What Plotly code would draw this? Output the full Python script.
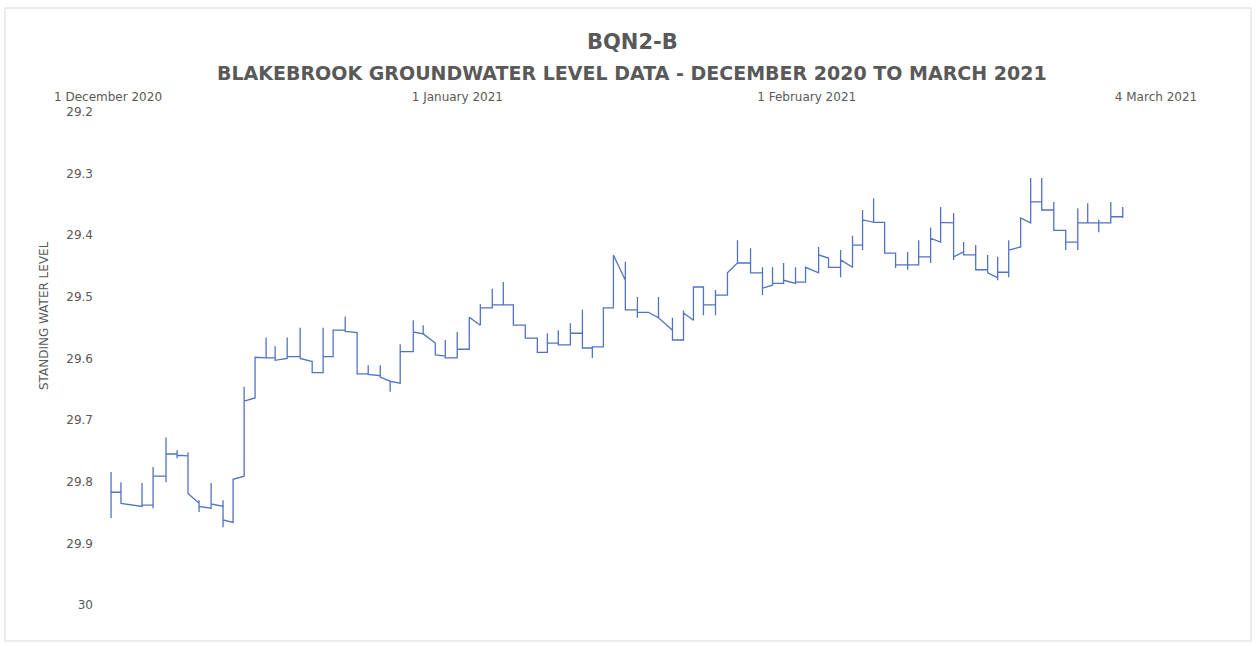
import pandas as pd
import plotly.graph_objects as go

# ---- data ----
# days after 1 December 2020 00:00 (repeated days draw the daily vertical excursions)
day = [
    0.27, 0.27, 0.27, 1.15, 1.15, 1.15, 3.02, 3.02, 3.02, 4.00, 4.00, 4.00, 4.00,
    5.15, 5.15, 5.15, 5.15, 6.13, 6.13, 6.13, 6.13, 7.10, 7.10, 7.10,
    8.08, 8.08, 8.08, 8.08, 9.15, 9.15, 9.15, 10.21, 10.21, 10.21, 10.21,
    11.10, 11.10, 12.08, 12.08, 12.08, 13.05, 13.05,
    14.03, 14.03, 14.03, 14.83, 14.83, 14.83, 15.90, 15.90, 15.90, 17.05, 17.05, 17.05,
    18.12, 18.12, 19.09, 19.09, 19.09, 19.98, 19.98, 21.05, 21.05, 21.05,
    22.11, 22.11, 23.09, 23.09, 23.09, 24.16, 24.16, 24.16, 25.04, 25.04, 25.04,
    25.93, 25.93, 25.93, 27.09, 27.09, 27.09,
    27.97, 27.97, 27.97, 29.04, 29.04, 29.93, 29.93, 29.93, 30.99, 30.99, 30.99,
    32.06, 32.06, 33.04, 33.04, 33.04, 34.10, 34.10, 34.10, 35.08, 35.08, 35.08,
    35.97, 35.97, 37.03, 37.03, 38.10, 38.10, 38.99, 38.99, 38.99, 39.96, 39.96, 39.96,
    41.03, 41.03, 41.03, 42.10, 42.10, 42.10, 42.98, 42.98, 42.98, 43.96, 43.96,
    44.85, 44.85, 45.91, 45.91, 45.91, 46.98, 46.98, 46.98, 46.98, 47.96,
    48.85, 48.85, 48.85, 50.09, 50.09, 50.09, 51.07, 51.07, 51.07, 51.95, 51.95,
    52.84, 52.84, 52.84, 52.84, 53.91, 53.91, 53.91, 53.91, 54.97, 54.97,
    55.86, 55.86, 55.86, 57.02, 57.02, 57.02, 58.08, 58.08, 58.08, 58.08,
    58.97, 58.97, 58.97, 59.95, 59.95, 59.95, 61.01, 61.01, 61.01, 61.90, 61.90,
    63.06, 63.06, 63.06, 63.94, 63.94,
    65.01, 65.01, 65.01, 65.01, 66.07, 66.07, 66.07, 66.96, 66.96, 66.96, 66.96,
    67.94, 67.94, 67.94, 68.92, 68.92, 69.89, 69.89, 69.89, 70.96, 70.96, 70.96, 70.96,
    71.94, 71.94, 71.94, 73.00, 73.00, 73.00, 73.00, 73.89, 73.89, 73.89,
    75.04, 75.04, 75.04, 75.04, 75.93, 75.93, 75.93, 77.00, 77.00, 77.00,
    78.06, 78.06, 78.06, 78.95, 78.95, 78.95, 78.95, 79.93, 79.93, 79.93, 79.93,
    80.99, 80.99, 81.88, 81.88, 81.88, 82.86, 82.86, 82.86, 83.93, 83.93, 83.93,
    84.99, 84.99, 84.99, 86.06, 86.06, 86.06, 86.06, 86.94, 86.94, 86.94,
    87.92, 87.92, 87.92, 87.92, 88.99, 88.99, 88.99, 90.05, 90.05, 90.05,
]

level = [
    29.859, 29.784, 29.817, 29.817, 29.801, 29.835, 29.840, 29.802, 29.838,
    29.838, 29.843, 29.776, 29.791,
    29.791, 29.801, 29.728, 29.755, 29.755, 29.749, 29.762, 29.757, 29.758, 29.752, 29.819,
    29.835, 29.849, 29.830, 29.840, 29.843, 29.802, 29.836, 29.840, 29.874, 29.830, 29.862,
    29.866, 29.796, 29.791, 29.646, 29.669, 29.664, 29.598,
    29.599, 29.566, 29.599, 29.599, 29.580, 29.603, 29.600, 29.566, 29.597,
    29.597, 29.550, 29.600,
    29.605, 29.623, 29.623, 29.550, 29.597, 29.597, 29.554, 29.554, 29.532, 29.556,
    29.558, 29.625, 29.625, 29.611, 29.626, 29.628, 29.611, 29.630, 29.637, 29.654, 29.637,
    29.640, 29.577, 29.589, 29.589, 29.538, 29.557,
    29.560, 29.546, 29.560, 29.575, 29.594, 29.596, 29.570, 29.599, 29.599, 29.557, 29.585,
    29.585, 29.533, 29.546, 29.512, 29.518, 29.518, 29.487, 29.513, 29.513, 29.476, 29.513,
    29.513, 29.546, 29.546, 29.567, 29.567, 29.590, 29.590, 29.559, 29.575,
    29.575, 29.554, 29.578,
    29.578, 29.543, 29.559, 29.559, 29.521, 29.583, 29.583, 29.599, 29.581, 29.581, 29.518,
    29.518, 29.432, 29.473, 29.443, 29.521, 29.521, 29.500, 29.534, 29.525, 29.525,
    29.534, 29.500, 29.534, 29.554, 29.534, 29.570, 29.570, 29.522, 29.526, 29.538, 29.484,
    29.484, 29.492, 29.530, 29.513, 29.513, 29.489, 29.530, 29.497, 29.497, 29.461,
    29.445, 29.408, 29.445, 29.445, 29.421, 29.461, 29.461, 29.452, 29.497, 29.486,
    29.481, 29.452, 29.478, 29.478, 29.445, 29.473, 29.478, 29.452, 29.476, 29.476, 29.452,
    29.461, 29.419, 29.432, 29.437, 29.452,
    29.452, 29.424, 29.468, 29.440, 29.452, 29.401, 29.416, 29.416, 29.424, 29.359, 29.375,
    29.379, 29.340, 29.379, 29.379, 29.429, 29.429, 29.453, 29.448,
    29.448, 29.427, 29.456, 29.448,
    29.448, 29.408, 29.435, 29.435, 29.445, 29.388, 29.405, 29.411, 29.354, 29.379,
    29.380, 29.364, 29.440, 29.435, 29.427, 29.411, 29.432, 29.432, 29.416, 29.456,
    29.456, 29.432, 29.461, 29.469, 29.473, 29.435, 29.460, 29.460, 29.468, 29.408, 29.424,
    29.419, 29.372, 29.380, 29.307, 29.346, 29.346, 29.307, 29.359, 29.359, 29.346, 29.392,
    29.392, 29.424, 29.411, 29.411, 29.424, 29.356, 29.380, 29.380, 29.348, 29.380,
    29.380, 29.375, 29.395, 29.380, 29.380, 29.346, 29.370, 29.370, 29.354, 29.372,
]

start_date = "2020-12-01"
tick_dates = ["2020-12-01", "2021-01-01", "2021-02-01", "2021-03-04"]
tick_labels = ["1 December 2020", "1 January 2021", "1 February 2021", "4 March 2021"]
y_ticks = [29.2, 29.3, 29.4, 29.5, 29.6, 29.7, 29.8, 29.9, 30]

title_1 = "BQN2-B"
title_2 = "BLAKEBROOK GROUNDWATER LEVEL DATA - DECEMBER 2020 TO MARCH 2021"
y_title = "STANDING WATER LEVEL"

times = pd.Timestamp(start_date) + pd.to_timedelta(day, unit="D")

GREY = "#595959"
FONT = "DejaVu Sans"

fig = go.Figure(
    go.Scatter(
        x=times, y=level, mode="lines",
        line=dict(color="#5272c2", width=1.3),
        hoverinfo="x+y", showlegend=False,
    )
)

L, R, T, B = 108, 103, 112, 41
W, H = 1259, 646
pw, ph = W - L - R, H - T - B

def px(xp):
    return (xp - L) / pw

def py(yp):
    return (H - B - yp) / ph

fig.update_layout(
    width=W, height=H,
    margin=dict(l=L, r=R, t=T, b=B),
    paper_bgcolor="white", plot_bgcolor="white",
    font=dict(family=FONT, color=GREY, size=12),
    xaxis=dict(
        side="top", range=[tick_dates[0], tick_dates[-1]],
        tickmode="array", tickvals=tick_dates, ticktext=tick_labels,
        showgrid=False, zeroline=False, showline=False, ticks="",
        ticklabelstandoff=8, tickfont=dict(size=12, color=GREY, family=FONT),
    ),
    yaxis=dict(
        range=[30.0, 29.2], tickmode="array", tickvals=y_ticks,
        ticktext=[str(v) for v in y_ticks],
        showgrid=False, zeroline=False, showline=False, ticks="",
        ticklabelstandoff=14, tickfont=dict(size=12, color=GREY, family=FONT),
    ),
    annotations=[
        dict(text=f"<b>{title_1}</b>", x=0.5, y=py(42), xref="paper", yref="paper",
             showarrow=False, xanchor="center", yanchor="middle",
             font=dict(size=21, color=GREY, family=FONT)),
        dict(text=f"<b>{title_2}</b>", x=0.5, y=py(73), xref="paper", yref="paper",
             showarrow=False, xanchor="center", yanchor="middle",
             font=dict(size=19, color=GREY, family=FONT)),
        dict(text=y_title, x=px(44), y=py(316), xref="paper", yref="paper",
             showarrow=False, xanchor="center", yanchor="middle", textangle=-90,
             font=dict(size=12, color=GREY, family=FONT)),
    ],
    shapes=[
        dict(type="rect", xref="paper", yref="paper",
             x0=px(5), x1=px(1251), y0=py(641), y1=py(8),
             line=dict(color="#d9d9d9", width=1), fillcolor="rgba(0,0,0,0)", layer="below"),
    ],
)

fig.write_html("out.html", config={"displayModeBar": False},
               post_script="document.body.style.margin='0';")
